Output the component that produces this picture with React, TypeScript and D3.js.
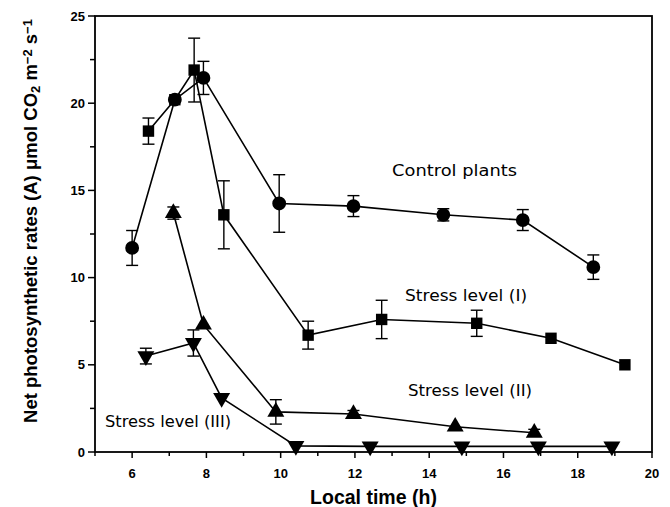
import React from "react";
import * as d3 from "d3";

// control plants (circles)
const controlX = [6.0, 7.15, 7.92, 9.96, 11.96, 14.38, 16.52, 18.42];
const controlY = [11.7, 20.2, 21.45, 14.25, 14.1, 13.6, 13.3, 10.6];
const controlErr = [1.0, 0, 0.95, 1.65, 0.6, 0.35, 0.6, 0.7];

// stress level I (squares)
const stress1X = [6.44, 7.15, 7.67, 8.47, 10.74, 12.72, 15.28, 17.28, 19.27];
const stress1Y = [18.4, 20.2, 21.9, 13.6, 6.7, 7.6, 7.38, 6.52, 5.0];
const stress1Err = [0.75, 0, 1.83, 1.95, 0.8, 1.1, 0.75, 0, 0];

// stress level II (up triangles)
const stress2X = [7.11, 7.92, 9.87, 11.96, 14.7, 16.83];
const stress2Y = [13.7, 7.3, 2.3, 2.18, 1.45, 1.1];
const stress2Err = [0.35, 0, 0.7, 0.2, 0, 0.2];

// stress level III (down triangles)
const stress3X = [6.37, 7.65, 8.41, 10.41, 12.41, 14.88, 16.94, 18.92];
const stress3Y = [5.5, 6.25, 3.1, 0.35, 0.32, 0.32, 0.32, 0.32];
const stress3Err = [0.45, 0.75, 0, 0, 0, 0, 0, 0];

const xTicks = [6, 8, 10, 12, 14, 16, 18, 20];
const yTicks = [0, 5, 10, 15, 20, 25];

const labels = ["Control plants", "Stress level (I)", "Stress level (II)", "Stress level (III)"];
const labelX = [13.0, 13.35, 13.43, 5.27];
const labelY = [15.8, 8.66, 3.2, 1.43];
const labelLen = [125, 122, 124, 126];

const margin = { left: 95, right: 18, top: 16, bottom: 55 };
const width = 670;
const height = 507;

type Pt = { x: number; y: number; e: number };

function zip(xs: number[], ys: number[], es: number[]): Pt[] {
  return xs.map((x, i) => ({ x, y: ys[i], e: es[i] }));
}

const series = [
  { name: "control", data: zip(controlX, controlY, controlErr), shape: "circle" },
  { name: "s1", data: zip(stress1X, stress1Y, stress1Err), shape: "square" },
  { name: "s2", data: zip(stress2X, stress2Y, stress2Err), shape: "up" },
  { name: "s3", data: zip(stress3X, stress3Y, stress3Err), shape: "down" },
];

export default function App() {
  const x = d3
    .scaleLinear()
    .domain([5, 20])
    .range([margin.left, width - margin.right]);
  const y = d3
    .scaleLinear()
    .domain([0, 25])
    .range([height - margin.bottom, margin.top]);

  const line = d3
    .line<Pt>()
    .x((d) => x(d.x))
    .y((d) => y(d.y));

  const symbolPath = (shape: string) => {
    if (shape === "circle") return d3.symbol(d3.symbolCircle, 150)();
    if (shape === "square") return d3.symbol(d3.symbolSquare, 130)();
    return d3.symbol(d3.symbolTriangle, 125)();
  };

  const x0 = margin.left;
  const x1 = width - margin.right;
  const y0 = height - margin.bottom;
  const y1 = margin.top;
  const minorX = d3.range(5, 20.01, 1);
  const minorY = d3.range(0, 25.01, 2.5);

  const labelFont = "DejaVu Sans, sans-serif";
  const axisFont = "Liberation Sans, Arial, sans-serif";

  return (
    <svg
      width={width}
      height={height}
      style={{ position: "absolute", left: 0, top: 0, background: "white" }}
    >
      {/* frame */}
      <rect
        x={x0}
        y={y1}
        width={x1 - x0}
        height={y0 - y1}
        fill="none"
        stroke="black"
        strokeWidth={1.8}
      />

      {/* x ticks */}
      {minorX.map((t) => (
        <line
          key={"xt" + t}
          x1={x(t)}
          x2={x(t)}
          y1={y0}
          y2={y0 + (t % 2 === 0 ? 6 : 4)}
          stroke="black"
          strokeWidth={1.5}
        />
      ))}
      {xTicks.map((t) => (
        <text
          key={"xl" + t}
          x={x(t)}
          y={y0 + 26}
          textAnchor="middle"
          fontFamily={axisFont}
          fontWeight="bold"
          fontSize={13}
        >
          {t}
        </text>
      ))}

      {/* y ticks */}
      {minorY.map((t) => (
        <line
          key={"yt" + t}
          x1={x0}
          x2={x0 - (t % 5 === 0 ? 7 : 5)}
          y1={y(t)}
          y2={y(t)}
          stroke="black"
          strokeWidth={1.5}
        />
      ))}
      {yTicks.map((t) => (
        <text
          key={"yl" + t}
          x={x0 - 10}
          y={y(t)}
          dy="0.35em"
          textAnchor="end"
          fontFamily={axisFont}
          fontWeight="bold"
          fontSize={13}
        >
          {t}
        </text>
      ))}

      {/* axis titles */}
      <text
        x={(x0 + x1) / 2}
        y={height - 3}
        textAnchor="middle"
        fontFamily={axisFont}
        fontWeight="bold"
        fontSize={19.5}
      >
        Local time (h)
      </text>
      <text
        transform={`translate(37, 221) rotate(-90)`}
        textAnchor="middle"
        fontFamily={axisFont}
        fontWeight="bold"
        fontSize={18.5}
      >
        Net photosynthetic rates (A) μmol CO
        <tspan baselineShift="-25%" fontSize={13}>
          2
        </tspan>
        <tspan> m</tspan>
        <tspan baselineShift="40%" fontSize={13}>
          −2
        </tspan>
        <tspan> s</tspan>
        <tspan baselineShift="40%" fontSize={13}>
          −1
        </tspan>
      </text>

      {/* series */}
      {series.map((s) => (
        <g key={s.name}>
          <path d={line(s.data) ?? ""} fill="none" stroke="black" strokeWidth={1.6} />
          {s.data
            .filter((d) => d.e > 0)
            .map((d, i) => (
              <g key={"e" + i} stroke="black" strokeWidth={1.4}>
                <line x1={x(d.x)} x2={x(d.x)} y1={y(d.y - d.e)} y2={y(d.y + d.e)} />
                <line x1={x(d.x) - 6} x2={x(d.x) + 6} y1={y(d.y + d.e)} y2={y(d.y + d.e)} />
                <line x1={x(d.x) - 6} x2={x(d.x) + 6} y1={y(d.y - d.e)} y2={y(d.y - d.e)} />
              </g>
            ))}
          {s.data.map((d, i) => (
            <path
              key={"m" + i}
              d={symbolPath(s.shape) ?? ""}
              transform={`translate(${x(d.x)},${y(d.y)})${s.shape === "down" ? " rotate(180)" : ""}`}
              fill="black"
            />
          ))}
        </g>
      ))}

      {/* annotations */}
      {labels.map((l, i) => (
        <text
          key={l}
          x={x(labelX[i])}
          y={y(labelY[i])}
          fontFamily={labelFont}
          fontSize={15}
          textLength={labelLen[i]}
          lengthAdjust="spacingAndGlyphs"
        >
          {l}
        </text>
      ))}
    </svg>
  );
}
